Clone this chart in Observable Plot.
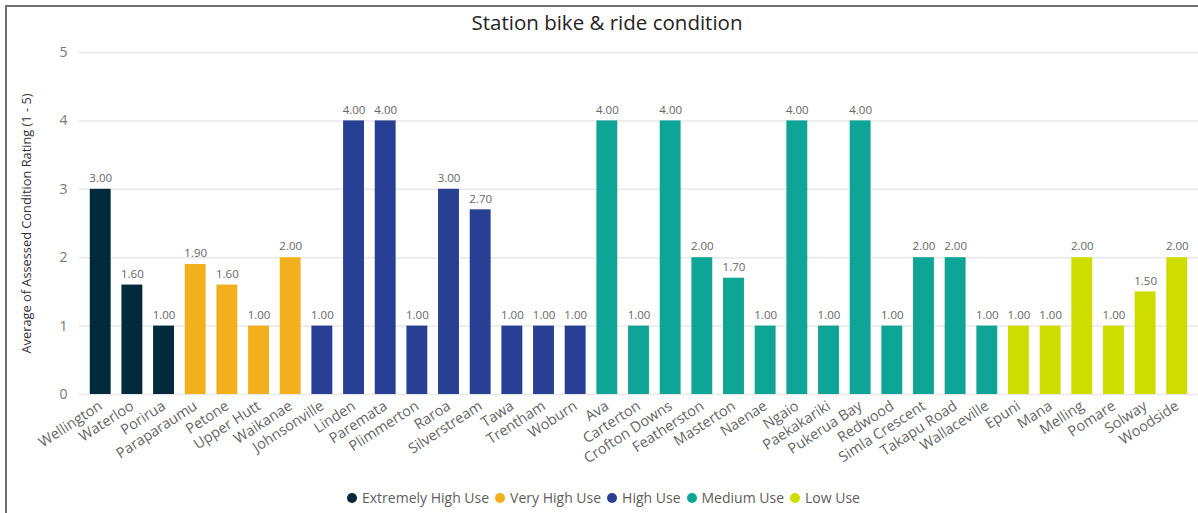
<!DOCTYPE html>
<html>
<head>
<meta charset="utf-8">
<script src="https://cdn.jsdelivr.net/npm/d3@7"></script>
<script src="https://cdn.jsdelivr.net/npm/@observablehq/plot@0.6"></script>
<style>
  html, body { margin: 0; padding: 0; background: #fff; }
  body { width: 1198px; height: 513px; position: relative; overflow: hidden;
         font-family: "Segoe UI", "Open Sans", "Noto Sans", sans-serif; }
  #frame { position: absolute; left: 5px; top: 5px; width: 1200px; height: 520px;
           border-top: 2px solid #707070; border-left: 2px solid #707070; box-sizing: border-box; }
  #title { position: absolute; left: 0; top: 9px; width: 1214px; text-align: center;
           font-size: 20.5px; line-height: 26px; color: #252423; }
  #chart { position: absolute; left: 0; top: 30px; }
  #chart svg { overflow: visible; }
  #legend { position: absolute; left: 347px; top: 488px; display: flex; align-items: center;
            font-size: 14px; color: #605E5C; line-height: 20px; white-space: nowrap; }
  #legend .item { display: flex; align-items: center; margin-right: 6px; }
  #legend .dot { width: 10px; height: 10px; border-radius: 50%; margin-right: 5px; }
  g[aria-label="y-axis label"] text { fill: #333; font-size: 12.8px; }
</style>
</head>
<body>
<div id="frame"></div>
<div id="title">Station bike &amp; ride condition</div>
<div id="chart"></div>
<div id="legend"></div>
<script>
const stations = ["Wellington","Waterloo","Porirua","Paraparaumu","Petone","Upper Hutt","Waikanae",
  "Johnsonville","Linden","Paremata","Plimmerton","Raroa","Silverstream","Tawa","Trentham","Woburn",
  "Ava","Carterton","Crofton Downs","Featherston","Masterton","Naenae","Ngaio","Paekakariki","Pukerua Bay",
  "Redwood","Simla Crescent","Takapu Road","Wallaceville",
  "Epuni","Mana","Melling","Pomare","Solway","Woodside"];
const ratings = [3.00,1.60,1.00,1.90,1.60,1.00,2.00,
  1.00,4.00,4.00,1.00,3.00,2.70,1.00,1.00,1.00,
  4.00,1.00,4.00,2.00,1.70,1.00,4.00,1.00,4.00,1.00,2.00,2.00,1.00,
  1.00,1.00,2.00,1.00,1.50,2.00];
const usage = [
  "Extremely High Use","Extremely High Use","Extremely High Use",
  "Very High Use","Very High Use","Very High Use","Very High Use",
  "High Use","High Use","High Use","High Use","High Use","High Use","High Use","High Use","High Use",
  "Medium Use","Medium Use","Medium Use","Medium Use","Medium Use","Medium Use","Medium Use","Medium Use",
  "Medium Use","Medium Use","Medium Use","Medium Use","Medium Use",
  "Low Use","Low Use","Low Use","Low Use","Low Use","Low Use"];
const usageLevels = ["Extremely High Use","Very High Use","High Use","Medium Use","Low Use"];
const usageColors = ["#012B3B","#F2B01E","#283F94","#0EA597","#CFDC00"];
const yTicks = [0,1,2,3,4,5];
const yTitle = "Average of Assessed Condition Rating (1 - 5)";

const data = stations.map((s, i) => ({station: s, rating: ratings[i], usage: usage[i]}));

const chart = Plot.plot({
  width: 1198,
  height: 430,
  marginLeft: 79,
  marginRight: 0,
  marginTop: 22,
  marginBottom: 66,
  style: {fontFamily: "'Segoe UI','Open Sans','Noto Sans',sans-serif", background: "transparent"},
  x: {domain: stations, padding: 0.34, round: false},
  y: {domain: [0, 5]},
  color: {domain: usageLevels, range: usageColors},
  marks: [
    Plot.gridY(yTicks, {stroke: "#e8e8e8", strokeOpacity: 1, strokeWidth: 1.5}),
    Plot.barY(data, {x: "station", y: "rating", fill: "usage"}),
    Plot.text(data, {x: "station", y: "rating", text: d => d.rating.toFixed(2),
      dy: -11, fill: "#666", fontSize: 11.5}),
    Plot.axisY({ticks: yTicks, tickFormat: d => String(d), tickSize: 0, tickPadding: 12, fontSize: 14, fill: "#777",
      label: yTitle, labelAnchor: "center", labelArrow: "none", labelOffset: 58}),
    Plot.axisX({tickRotate: -33, tickSize: 0, tickPadding: 10, fontSize: 14.5, fill: "#666", label: null})
  ]
});
document.getElementById("chart").appendChild(chart);

const legend = d3.select("#legend");
usageLevels.forEach((lvl, i) => {
  const item = legend.append("div").attr("class", "item");
  item.append("div").attr("class", "dot").style("background", usageColors[i]);
  item.append("span").text(lvl);
});
</script>
</body>
</html>
